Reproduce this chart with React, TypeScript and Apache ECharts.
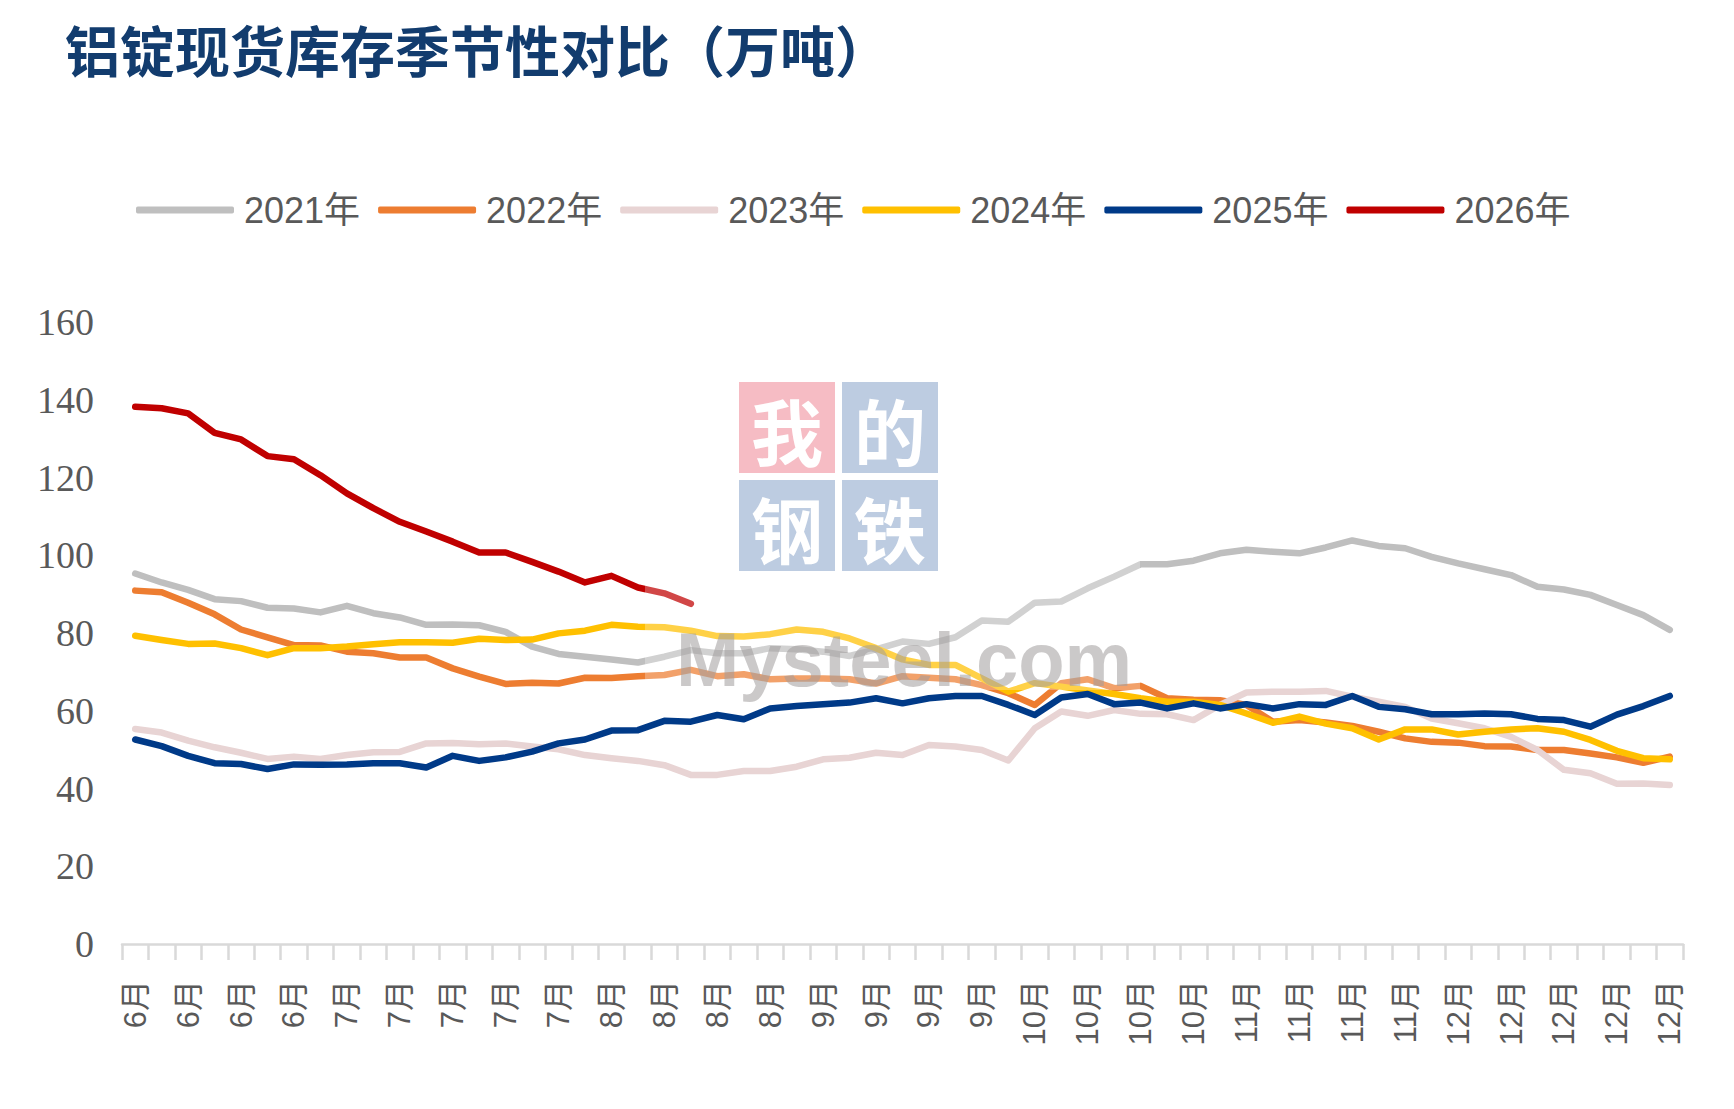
import React, { useEffect, useRef } from "react";
import * as echarts from "echarts";

const categories = [
  "6月", "6月", "6月", "6月", "6月", "6月", "6月", "6月",
  "7月", "7月", "7月", "7月", "7月", "7月", "7月", "7月", "7月", "7月",
  "8月", "8月", "8月", "8月", "8月", "8月", "8月", "8月",
  "9月", "9月", "9月", "9月", "9月", "9月", "9月", "9月",
  "10月", "10月", "10月", "10月", "10月", "10月", "10月", "10月",
  "11月", "11月", "11月", "11月", "11月", "11月", "11月", "11月",
  "12月", "12月", "12月", "12月", "12月", "12月", "12月", "12月", "12月",
];

const yearNames = ["2021年", "2022年", "2023年", "2024年", "2025年", "2026年"];
const yearColors = ["#BFBFBF", "#ED7D31", "#E8D4D4", "#FFC000", "#003A88", "#C00000"];

const y2021 = [
  95.3, 93.0, 91.1, 88.7, 88.2, 86.5, 86.3, 85.3, 87.0, 85.1, 84.0, 82.1, 82.2, 82.0, 80.3,
  76.5, 74.6, 73.9, 73.2, 72.4, 73.9, 75.6, 74.8, 74.8, 76.1, 75.8, 75.2, 74.1, 75.8, 77.8, 77.2,
  78.9, 83.2, 82.9, 87.8, 88.1, 91.5, 94.5, 97.7, 97.7, 98.6, 100.5, 101.4, 100.9, 100.5,
  102.0, 103.8, 102.4, 101.8, 99.6, 97.9, 96.4, 94.9, 91.9, 91.2, 89.8, 87.2, 84.6, 80.8,
];
const y2022 = [
  90.9, 90.5, 87.8, 84.8, 80.9, 78.9, 76.9, 76.8, 75.2, 74.8, 73.7, 73.7, 70.9, 68.8, 66.9,
  67.2, 67.0, 68.5, 68.4, 68.9, 69.2, 70.5, 68.9, 69.4, 68.1, 68.3, 68.3, 68.1, 67.0, 68.9, 68.5,
  68.1, 66.6, 64.5, 61.5, 67.1, 68.1, 65.8, 66.4, 63.2, 62.8, 62.7, 61.5, 57.2, 57.6,
  57.0, 56.1, 54.6, 52.9, 52.0, 51.8, 50.9, 50.8, 49.9, 49.9, 49.0, 48.0, 46.6, 48.2,
];
const y2023 = [
  55.3, 54.4, 52.3, 50.6, 49.2, 47.6, 48.2, 47.6, 48.6, 49.3, 49.4, 51.6, 51.7, 51.4, 51.6,
  50.8, 50.1, 48.6, 47.8, 47.1, 46.0, 43.5, 43.5, 44.5, 44.5, 45.6, 47.5, 47.9, 49.2, 48.6, 51.2,
  50.8, 49.9, 47.2, 55.5, 59.8, 58.7, 60.2, 59.2, 59.1, 57.6, 61.5, 64.7, 64.9, 64.9,
  65.1, 63.6, 62.3, 61.0, 58.0, 56.8, 55.5, 53.3, 49.9, 44.8, 43.9, 41.2, 41.3, 40.9,
];
const y2024 = [
  79.3, 78.2, 77.2, 77.3, 76.1, 74.3, 76.1, 76.1, 76.5, 77.1, 77.6, 77.6, 77.5, 78.5, 78.2,
  78.3, 79.9, 80.6, 82.1, 81.6, 81.5, 80.6, 79.2, 79.1, 79.7, 80.9, 80.3, 78.6, 76.1, 73.2, 71.8,
  71.8, 68.3, 64.9, 67.1, 66.2, 65.2, 64.3, 63.2, 62.3, 62.3, 61.5, 59.3, 56.9, 58.5,
  56.7, 55.5, 52.6, 55.2, 55.2, 53.9, 54.6, 55.2, 55.5, 54.6, 52.5, 49.7, 47.8, 47.5,
];
const y2025 = [
  52.6, 50.9, 48.4, 46.5, 46.3, 45.0, 46.2, 46.1, 46.2, 46.5, 46.5, 45.4, 48.4, 47.1, 48.0,
  49.5, 51.6, 52.6, 54.9, 55.0, 57.4, 57.2, 58.9, 57.8, 60.6, 61.2, 61.7, 62.1, 63.2, 61.9, 63.2,
  63.8, 63.8, 61.5, 58.9, 63.4, 64.3, 61.7, 62.1, 60.6, 61.9, 60.6, 61.7, 60.6, 61.7,
  61.5, 63.8, 61.0, 60.4, 59.1, 59.1, 59.3, 59.1, 57.9, 57.6, 55.9, 59.0, 61.2, 63.8,
];
const y2026 = [
  138.2, 137.8, 136.5, 131.5, 129.8, 125.5, 124.7, 120.6, 115.9, 112.1, 108.6,
  106.1, 103.5, 100.7, 100.7, 98.3, 95.8, 93.0, 94.7, 91.7, 90.2, 87.5,
];

const seriesValues = [y2021, y2022, y2023, y2024, y2025, y2026];

const titleText = "铝锭现货库存季节性对比（万吨）";
const yTicks = { min: 0, max: 160, interval: 20 };

export default function App() {
  const ref = useRef<HTMLDivElement>(null);

  useEffect(() => {
    document.body.style.margin = "0";
    const chart = echarts.init(ref.current as HTMLDivElement, null, { renderer: "svg" });
    const cjk = "'Noto Sans CJK SC', sans-serif";
    const option = {
      animation: false,
      backgroundColor: "#ffffff",
      title: {
        text: titleText,
        left: 60,
        top: 15,
        textStyle: {
          color: "#123C6E",
          fontSize: 55,
          fontWeight: "bold",
          fontFamily: cjk,
        },
      },
      legend: {
        data: yearNames,
        left: 131,
        top: 187,
        icon: "roundRect",
        itemWidth: 98,
        itemHeight: 7,
        itemGap: 18,
        itemStyle: { borderWidth: 0 },
        textStyle: {
          color: "#595959",
          fontSize: 36,
          fontFamily: "'Liberation Sans', 'Noto Sans CJK SC', sans-serif",
          padding: [0, 0, 0, 5],
        },
      },
      grid: { left: 122, right: 51, top: 322, bottom: 165, containLabel: false },
      xAxis: {
        type: "category",
        data: categories,
        boundaryGap: true,
        axisLine: { lineStyle: { color: "#D9D9D9", width: 2.5 } },
        axisTick: {
          show: true,
          interval: 0,
          length: 16,
          lineStyle: { color: "#D9D9D9", width: 2.5 },
        },
        axisLabel: {
          interval: 1,
          rotate: 90,
          margin: 36,
          color: "#595959",
          fontSize: 31,
          fontFamily: "'Liberation Sans Narrow', 'Liberation Sans', 'Noto Sans CJK SC', sans-serif",
        },
        splitLine: { show: false },
      },
      yAxis: {
        type: "value",
        min: yTicks.min,
        max: yTicks.max,
        interval: yTicks.interval,
        axisLine: { show: false },
        axisTick: { show: false },
        splitLine: { show: false },
        axisLabel: {
          margin: 28,
          color: "#595959",
          fontSize: 38,
          fontFamily: "'Liberation Serif', 'Times New Roman', serif",
        },
      },
      series: yearNames.map((name, i) => ({
        name,
        type: "line",
        data: seriesValues[i],
        symbol: "none",
        showSymbol: false,
        smooth: false,
        color: yearColors[i],
        lineStyle: { width: 6.5, color: yearColors[i], cap: "round", join: "round" },
        itemStyle: { color: yearColors[i] },
        emphasis: { disabled: true },
        z: 2 + i,
      })),
      graphic: [
        {
          type: "rect",
          z: 100,
          silent: true,
          shape: { x: 645, y: 378, width: 495, height: 312 },
          style: { fill: "rgba(255,255,255,0.28)" },
        },
        {
          type: "rect",
          z: 101,
          silent: true,
          shape: { x: 739, y: 382, width: 96, height: 91 },
          style: { fill: "#F6BCC4" },
        },
        {
          type: "rect",
          z: 101,
          silent: true,
          shape: { x: 842, y: 382, width: 96, height: 91 },
          style: { fill: "#BDCCE1" },
        },
        {
          type: "rect",
          z: 101,
          silent: true,
          shape: { x: 739, y: 480, width: 96, height: 91 },
          style: { fill: "#BDCCE1" },
        },
        {
          type: "rect",
          z: 101,
          silent: true,
          shape: { x: 842, y: 480, width: 96, height: 91 },
          style: { fill: "#BDCCE1" },
        },
        ...[
          { t: "我", x: 787, y: 428 },
          { t: "的", x: 890, y: 428 },
          { t: "钢", x: 787, y: 526 },
          { t: "铁", x: 890, y: 526 },
        ].map((c) => ({
          type: "text",
          z: 102,
          silent: true,
          x: c.x,
          y: c.y,
          style: {
            text: c.t,
            fill: "#ffffff",
            fontSize: 72,
            fontWeight: "bold",
            fontFamily: cjk,
            align: "center",
            verticalAlign: "middle",
          },
        })),
        {
          type: "text",
          z: 103,
          silent: true,
          x: 676,
          y: 621,
          style: {
            text: "Mysteel.com",
            fill: "rgba(160,156,156,0.55)",
            fontSize: 76,
            fontWeight: "bold",
            fontFamily: "'Liberation Sans', sans-serif",
            verticalAlign: "alphabetic",
          },
        },
      ],
    };
    chart.setOption(option as any);
    return () => chart.dispose();
  }, []);

  return <div ref={ref} style={{ width: 1734, height: 1109 }} />;
}
